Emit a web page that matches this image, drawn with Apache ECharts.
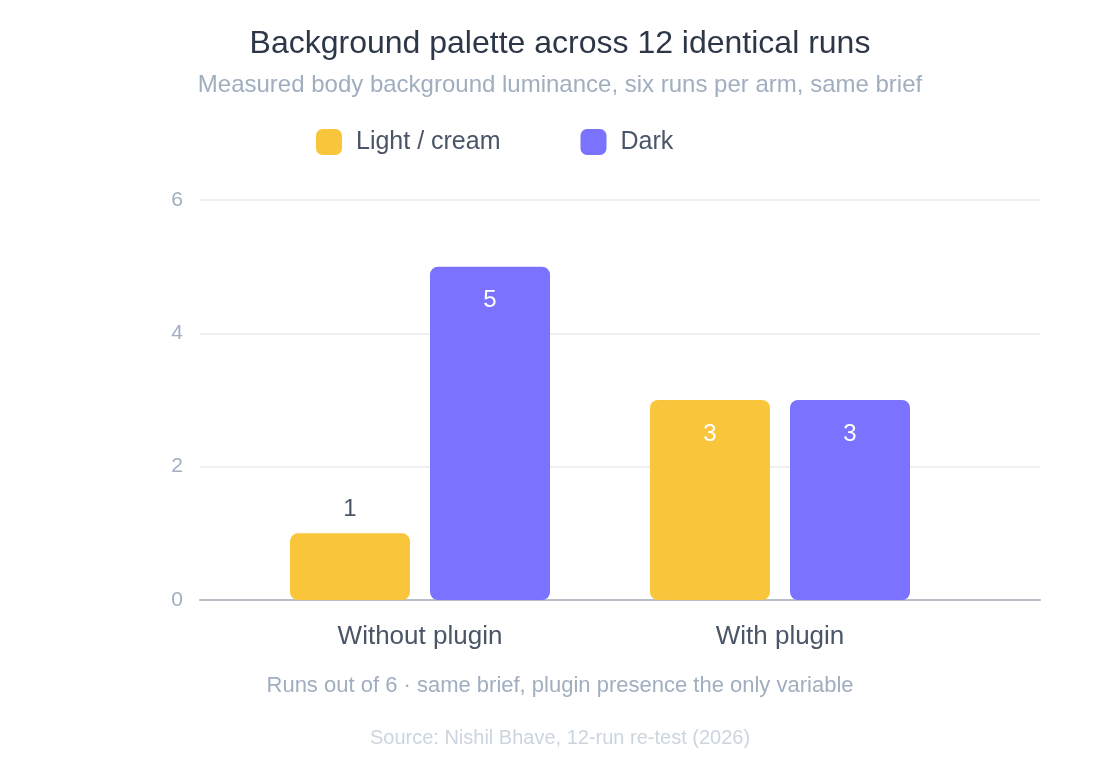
<!DOCTYPE html>
<html>
<head>
<meta charset="utf-8">
<title>Background palette across 12 identical runs</title>
<script src="https://cdn.jsdelivr.net/npm/echarts@6/dist/echarts.min.js"></script>
<style>
  html, body { margin: 0; padding: 0; background: #ffffff; }
  #chart { width: 1120px; height: 760px; }
</style>
</head>
<body>
<div id="chart"></div>
<script>
// data
const categories = ['Without plugin', 'With plugin'];
const seriesNames = ['Light / cream', 'Dark'];
const lightRuns = [1, 3];
const darkRuns = [5, 3];
const yTicks = [0, 2, 4, 6];

const FONT = '"Liberation Sans", Arial, Helvetica, sans-serif';
const colors = {
    light: '#F9C53A',
    dark: '#7B73FF',
    title: '#2D3748',
    muted: '#A0AEC0',
    label: '#4A5568',
    faint: '#CBD5E0'
};

// short bars get their number above the bar, tall ones inside near the top
function barData(values) {
    return values.map(v => {
        if (v < 1.5) {
            return {
                value: v,
                label: { position: 'top', distance: 12, color: colors.label }
            };
        }
        return v;
    });
}

function barSeries(name, values, color) {
    return {
        name: name,
        type: 'bar',
        xAxisIndex: 1,
        yAxisIndex: 1,
        barWidth: 120,
        barGap: '16.67%',
        itemStyle: { color: color, borderRadius: 8 },
        label: {
            show: true,
            position: 'insideTop',
            distance: 22,
            color: '#ffffff',
            fontFamily: FONT,
            fontSize: 24
        },
        data: barData(values)
    };
}

const chart = echarts.init(document.getElementById('chart'), null, { renderer: 'canvas' });

const option = {
    backgroundColor: '#ffffff',
    animation: false,
    textStyle: { fontFamily: FONT },
    title: [
        {
            text: 'Background palette across 12 identical runs',
            left: 'center',
            top: 23,
            textStyle: { color: colors.title, fontSize: 32, fontWeight: 'normal', fontFamily: FONT }
        },
        {
            text: 'Measured body background luminance, six runs per arm, same brief',
            left: 'center',
            top: 68,
            textStyle: { color: colors.muted, fontSize: 24, fontWeight: 'normal', fontFamily: FONT }
        },
        {
            text: 'Runs out of 6 · same brief, plugin presence the only variable',
            left: 'center',
            top: 670,
            textStyle: { color: colors.muted, fontSize: 22, fontWeight: 'normal', fontFamily: FONT }
        },
        {
            text: 'Source: Nishil Bhave, 12-run re-test (2026)',
            left: 'center',
            top: 723,
            textStyle: { color: colors.faint, fontSize: 20, fontWeight: 'normal', fontFamily: FONT }
        }
    ],
    legend: {
        left: 311,
        top: 124,
        icon: 'roundRect',
        itemWidth: 26,
        itemHeight: 26,
        itemGap: 80,
        data: seriesNames,
        textStyle: {
            color: colors.label,
            fontSize: 25,
            fontFamily: FONT,
            padding: [0, 0, 0, 9]
        }
    },
    // grid 0 carries the value axis, split lines and base line; grid 1 holds the bars
    grid: [
        { left: 200, right: 80, top: 200, bottom: 160 },
        { left: 240, right: 160, top: 200, bottom: 160 }
    ],
    xAxis: [
        {
            type: 'category',
            gridIndex: 0,
            data: categories,
            axisLine: { show: true, lineStyle: { color: '#B8BEC6', width: 2 } },
            axisTick: { show: false },
            axisLabel: { show: false },
            splitLine: { show: false }
        },
        {
            type: 'category',
            gridIndex: 1,
            data: categories,
            axisLine: { show: false },
            axisTick: { show: false },
            axisLabel: {
                color: colors.label,
                fontSize: 26,
                fontFamily: FONT,
                margin: 24
            }
        }
    ],
    yAxis: [
        {
            type: 'value',
            gridIndex: 0,
            min: yTicks[0],
            max: yTicks[yTicks.length - 1],
            interval: 2,
            axisLine: { show: false },
            axisTick: { show: false },
            axisLabel: { color: colors.muted, fontSize: 21, fontFamily: FONT, margin: 17 },
            splitLine: { lineStyle: { color: '#EEF0F3', width: 2 } }
        },
        {
            type: 'value',
            gridIndex: 1,
            min: yTicks[0],
            max: yTicks[yTicks.length - 1],
            interval: 2,
            show: false,
            splitLine: { show: false }
        }
    ],
    series: [
        barSeries(seriesNames[0], lightRuns, colors.light),
        barSeries(seriesNames[1], darkRuns, colors.dark)
    ]
};

chart.setOption(option);
</script>
</body>
</html>
